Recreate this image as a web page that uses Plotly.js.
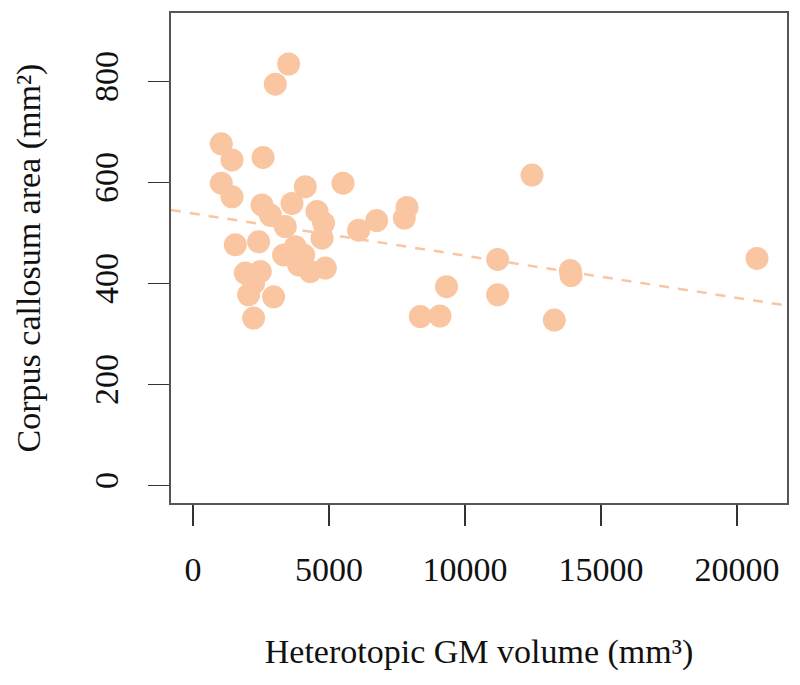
<!DOCTYPE html>
<html>
<head>
<meta charset="utf-8">
<script src="https://cdn.plot.ly/plotly-3.0.1.min.js"></script>
<style>html,body{margin:0;padding:0;background:#fff;}#chart{width:800px;height:685px;}</style>
</head>
<body>
<div id="chart"></div>
<script>
// Heterotopic GM volume (mm^3)
const gmVolume = [3515, 3026, 1040, 1434, 2574, 1040, 1434, 4129, 5515, 2537,
  3640, 2842, 3393, 4559, 4802, 4743, 6088, 6750, 7868, 7768,
  12463, 1555, 2412, 3331, 3761, 4066, 3882, 4313, 4864, 1923,
  2474, 2228, 2044, 2963, 2228, 9320, 8357, 9080, 11200, 11200,
  13871, 13900, 13283, 20735];
// Corpus callosum area (mm^2)
const ccArea = [835, 795, 677, 645, 650, 599, 572, 592, 599, 556,
  559, 536, 513, 543, 520, 490, 506, 525, 551, 530,
  615, 477, 483, 457, 473, 457, 437, 424, 431, 421,
  424, 401, 378, 374, 332, 394, 335, 336, 448, 378,
  426, 416, 328, 450];
// fitted regression line
const fitIntercept = 539;
const fitSlope = -0.00835;

const xTicks = [0, 5000, 10000, 15000, 20000];
const yTicks = [0, 200, 400, 600, 800];
const xRange = [-809, 21838];
const yRange = [-34.3, 936];

const peach = '#FAC6A1';
const fontFam = '"Liberation Serif", "Times New Roman", serif';

const fitX = [xRange[0], xRange[1]];
const fitY = fitX.map(v => fitIntercept + fitSlope * v);

const traces = [
  {x: fitX, y: fitY, type: 'scatter', mode: 'lines',
   line: {color: peach, width: 2.5, dash: '10px,9px'}, hoverinfo: 'skip', cliponaxis: true},
  {x: gmVolume, y: ccArea, type: 'scatter', mode: 'markers',
   marker: {color: peach, size: 23, line: {width: 0}}}
];

const axisCommon = {
  showgrid: false, zeroline: false, showline: true, mirror: true,
  linecolor: '#555', linewidth: 2,
  ticks: 'outside', ticklen: 21, tickwidth: 1.5, tickcolor: '#333',
  tickfont: {family: fontFam, size: 34, color: '#111'},
  title: {font: {family: fontFam, size: 34, color: '#111'}}
};

const layout = {
  width: 800, height: 685,
  margin: {l: 171, r: 13, t: 13, b: 182},
  paper_bgcolor: '#fff', plot_bgcolor: '#fff',
  showlegend: false,
  xaxis: Object.assign({}, axisCommon, {
    range: xRange, tickvals: xTicks, ticktext: xTicks.map(String),
    ticklabelstandoff: 14,
    title: {text: 'Heterotopic GM volume (mm³)', standoff: 52,
      font: {family: fontFam, size: 34, color: '#111'}}
  }),
  yaxis: Object.assign({}, axisCommon, {
    range: yRange, tickvals: yTicks, ticktext: yTicks.map(String),
    tickangle: -90, ticklabelstandoff: 16,
    title: {text: 'Corpus callosum area (mm²)', standoff: 38,
      font: {family: fontFam, size: 34, color: '#111'}}
  })
};

Plotly.newPlot('chart', traces, layout, {displayModeBar: false, staticPlot: true});
</script>
</body>
</html>
